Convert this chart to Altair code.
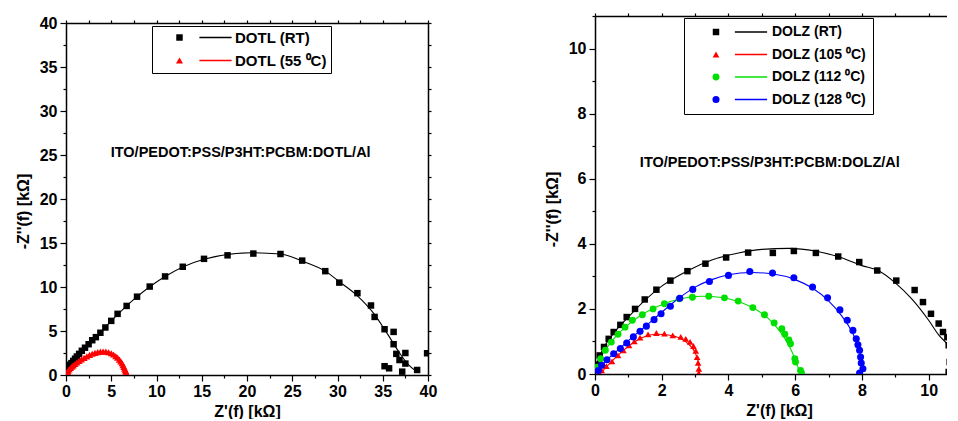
import altair as alt
import pandas as pd

FONT = "Liberation Sans"

# ---------------- Left panel: DOTL ----------------
DOTL_SERIES = ["DOTL (RT)", "DOTL (55 \u2070C)"]
DOTL_COLORS = ["#000000", "#ff0000"]
DOTL_SHAPES = ["square", "triangle-up"]

dotl_rt_px = [0.05, 0.1, 0.2, 0.3, 0.45, 0.6, 0.8, 1.0, 1.2, 1.45, 1.75, 2.1, 2.5, 2.9, 3.3, 3.8,
              4.35, 5.0, 5.7, 6.7, 7.85, 9.25, 10.95, 12.9, 15.25, 17.85, 20.7, 23.7, 26.1, 28.65,
              30.2, 32.2, 33.7, 34.1, 35.2, 36.2, 36.2, 36.5, 36.85, 37.5, 37.5, 37.15, 35.2, 35.7,
              38.8, 39.9]
dotl_rt_py = [0.45, 0.6, 0.8, 0.95, 1.15, 1.35, 1.6, 1.85, 2.1, 2.4, 2.75, 3.1, 3.5, 3.95, 4.3, 4.8,
              5.4, 6.15, 6.95, 7.85, 8.9, 10.05, 11.2, 12.3, 13.2, 13.6, 13.8, 13.75, 13.0, 11.8,
              10.5, 9.3, 7.9, 6.6, 5.2, 4.9, 3.5, 2.4, 1.7, 2.5, 1.3, 0.38, 1.0, 0.76,
              0.57, 2.47]
dotl_55_px = [0.05, 0.1, 0.15, 0.25, 0.35, 0.5, 0.65, 0.8, 1.0, 1.2, 1.45, 1.7, 2.0, 2.3, 2.6, 2.9,
              3.2, 3.5, 3.8, 4.1, 4.4, 4.7, 5.0, 5.25, 5.5, 5.7, 5.9, 6.05, 6.2, 6.3, 6.4, 6.48,
              6.55, 6.6, 6.65, 6.7, 6.72, 6.75]
dotl_55_py = [0.05, 0.2, 0.35, 0.5, 0.65, 0.8, 0.95, 1.1, 1.25, 1.42, 1.6, 1.78, 1.95, 2.12, 2.28, 2.42,
              2.52, 2.6, 2.65, 2.67, 2.65, 2.58, 2.47, 2.33, 2.15, 1.97, 1.75, 1.55, 1.33, 1.12, 0.92, 0.72,
              0.55, 0.4, 0.27, 0.15, 0.06, 0.02]
dotl_rt_fx = [0.0, 1.0, 2.0, 3.2, 5.0, 7.85, 10.95, 15.25, 20.5, 23.7, 26.1, 28.65, 30.2, 32.2, 34.0,
              35.5, 36.8, 37.8, 38.6]
dotl_rt_fy = [0.5, 1.95, 3.05, 4.2, 6.15, 8.9, 11.2, 13.15, 13.9, 13.75, 12.95, 11.8, 10.6, 9.0, 7.0,
              4.7, 2.6, 1.2, 0.5]
dotl_55_fx = [0.0, 0.5, 1.0, 2.0, 3.0, 4.0, 5.0, 5.7, 6.2, 6.5, 6.7, 6.75]
dotl_55_fy = [0.0, 0.78, 1.25, 1.95, 2.45, 2.66, 2.47, 1.97, 1.33, 0.7, 0.15, 0.0]

# ---------------- Right panel: DOLZ ----------------
DOLZ_SERIES = ["DOLZ (RT)", "DOLZ (105 \u2070C)", "DOLZ (112 \u2070C)", "DOLZ (128 \u2070C)"]
DOLZ_COLORS = ["#000000", "#ff0000", "#00e000", "#0000ff"]
DOLZ_SHAPES = ["square", "triangle-up", "circle", "circle"]

dolz_rt_px = [0.04, 0.14, 0.27, 0.41, 0.56, 0.76, 0.95, 1.2, 1.49, 1.84, 2.26, 2.77, 3.31, 3.93,
              4.59, 5.33, 5.96, 6.62, 7.29, 7.92, 8.46, 9.03, 9.58, 9.83, 10.07, 10.3, 10.43, 10.56,
              10.6, 10.63, 10.6]
dolz_rt_py = [0.29, 0.57, 0.83, 1.08, 1.29, 1.51, 1.75, 2.0, 2.29, 2.59, 2.87, 3.16, 3.39, 3.58,
              3.73, 3.72, 3.78, 3.72, 3.61, 3.44, 3.18, 2.87, 2.58, 2.21, 1.85, 1.55, 1.29, 1.13,
              0.88, 0.37, 0.06]
dolz_105_px = [0.1, 0.2, 0.34, 0.51, 0.69, 0.85, 1.02, 1.18, 1.35, 1.59, 1.84, 2.08, 2.33, 2.57,
               2.72, 2.85, 2.95, 3.02, 3.06, 3.09, 3.11, 3.11]
dolz_105_py = [0.03, 0.11, 0.24, 0.39, 0.57, 0.73, 0.88, 1.0, 1.12, 1.22, 1.26, 1.24, 1.19, 1.14,
               1.08, 0.99, 0.86, 0.71, 0.52, 0.34, 0.16, 0.03]
dolz_112_px = [0.07, 0.17, 0.31, 0.49, 0.69, 0.9, 1.12, 1.42, 1.74, 2.08, 2.52, 2.92, 3.41, 3.88,
               4.29, 4.73, 5.08, 5.37, 5.6, 5.69, 5.81, 5.86, 5.99, 6.01, 6.16, 6.19]
dolz_112_py = [0.21, 0.47, 0.73, 0.98, 1.22, 1.44, 1.65, 1.82, 2.0, 2.16, 2.31, 2.36, 2.39, 2.34,
               2.24, 2.04, 1.82, 1.57, 1.39, 1.22, 1.05, 0.93, 0.47, 0.37, 0.11, 0.03]
dolz_128_px = [0.1, 0.2, 0.36, 0.56, 0.76, 0.95, 1.15, 1.35, 1.54, 1.77, 1.98, 2.26, 2.54, 2.93,
               3.43, 4.0, 4.64, 5.32, 5.96, 6.52, 6.97, 7.34, 7.56, 7.73, 7.83, 7.88, 7.93, 7.96,
               7.98, 8.03, 7.93]
dolz_128_py = [0.11, 0.27, 0.44, 0.62, 0.78, 0.95, 1.14, 1.31, 1.47, 1.67, 1.85, 2.08, 2.33, 2.6,
               2.84, 3.03, 3.15, 3.1, 2.96, 2.67, 2.34, 1.97, 1.65, 1.34, 1.08, 0.9, 0.73, 0.52,
               0.34, 0.16, 0.03]
dolz_rt_fx = [0.0, 0.1, 0.3, 0.6, 1.0, 1.5, 2.0, 2.75, 3.5, 4.3, 5.0, 5.8, 6.6, 7.3, 8.0, 8.5, 9.0,
              9.5, 10.0, 10.3, 10.63, 10.8]
dolz_rt_fy = [0.15, 0.45, 0.88, 1.3, 1.75, 2.27, 2.7, 3.16, 3.5, 3.72, 3.83, 3.86, 3.78, 3.6, 3.33,
              3.17, 2.8, 2.3, 1.65, 1.2, 0.8, 0.4]
dolz_105_fx = [0.15, 0.4, 0.8, 1.2, 1.5, 1.85, 2.2, 2.55, 2.8, 3.0, 3.1, 3.14]
dolz_105_fy = [0.0, 0.28, 0.68, 1.0, 1.15, 1.22, 1.2, 1.1, 0.92, 0.65, 0.35, 0.05]
dolz_112_fx = [0.05, 0.2, 0.5, 0.9, 1.4, 2.0, 2.6, 3.2, 3.8, 4.3, 4.8, 5.2, 5.55, 5.8, 6.0, 6.12, 6.15]
dolz_112_fy = [0.15, 0.55, 1.0, 1.43, 1.82, 2.13, 2.32, 2.39, 2.35, 2.22, 2.0, 1.7, 1.3, 0.9, 0.45,
               0.1, 0.0]
dolz_128_fx = [0.05, 0.3, 0.7, 1.2, 1.8, 2.5, 3.0, 3.5, 4.0, 4.7, 5.3, 6.0, 6.5, 7.0, 7.4, 7.7, 7.9,
               8.0, 8.02]
dolz_128_fy = [0.1, 0.38, 0.75, 1.2, 1.72, 2.32, 2.67, 2.9, 3.05, 3.12, 3.08, 2.9, 2.65, 2.25, 1.78,
               1.3, 0.8, 0.35, 0.05]

LEFT_TICKS = [i * 2.5 for i in range(17)]
RIGHT_XTICKS = list(range(0, 11))
RIGHT_YTICKS = list(range(0, 12))


def frame(series_names, xs_list, ys_list, field="series", suffix=""):
    rows = []
    for name, xs, ys in zip(series_names, xs_list, ys_list):
        for k, (a, b) in enumerate(zip(xs, ys)):
            rows.append({field: name + suffix, "x": a, "y": b, "order": k})
    return pd.DataFrame(rows)


def tick_size(step):
    return {"condition": {"test": f"abs(datum.value % {step}) < 1e-6", "value": 6}, "value": 3}


def label_expr(step):
    return f"abs(datum.value % {step}) < 1e-6 ? datum.label : ''"


def panel(series, colors, shapes, pts, fits, xdom, ydom, xticks, yticks, xstep, ystep,
          width, height, top_gap, note, note_x, note_y, sizes, leg, ytitle_y, xtitle_x,
          right_axis):
    xs = alt.Scale(domain=xdom, nice=False, zero=False)
    ys = alt.Scale(domain=ydom, nice=False, zero=False, range=[height, top_gap])
    col_pts = alt.Scale(domain=series, range=colors)
    col_fit = alt.Scale(domain=[s + " fit" for s in series], range=colors)
    shp = alt.Scale(domain=series, range=shapes)

    legA = alt.Legend(title=None, orient="none", legendX=leg["x"], legendY=leg["y"],
                      strokeColor="black", padding=leg["pad"],
                      symbolOffset=leg["symoff"], labelOffset=leg["laboff"],
                      rowPadding=leg["rowpad"], symbolSize=45, symbolStrokeWidth=0,
                      labelFont=FONT, labelFontWeight="bold", labelFontSize=leg["fs"],
                      labelColor="black", labelLimit=400)
    legB = alt.Legend(title=None, orient="none", legendX=leg["bx"], legendY=leg["y"],
                      padding=leg["pad"], rowPadding=leg["rowpad"], symbolSize=45,
                      symbolType="M-4.8,0H4.8", symbolStrokeWidth=1.3,
                      labelFont=FONT, labelFontWeight="bold", labelFontSize=leg["fs"],
                      labelExpr="''", labelLimit=400)

    xaxis = alt.Axis(values=xticks, title="Z'(f) [k\u03a9]", labelExpr=label_expr(xstep),
                     tickSize=tick_size(xstep), labelFlush=False, labelOverlap=False,
                     titlePadding=4, format="d", **({"titleX": xtitle_x} if xtitle_x else {}))
    yaxis = alt.Axis(values=yticks, title="-Z''(f) [k\u03a9]", labelExpr=label_expr(ystep),
                     tickSize=tick_size(ystep), labelFlush=False, labelOverlap=False,
                     titlePadding=8, labelPadding=3, format="d", titleY=ytitle_y)

    lines = alt.Chart(fits).mark_line(strokeWidth=1.1, interpolate="monotone", clip=True).encode(
        x=alt.X("x:Q", scale=xs, axis=xaxis),
        y=alt.Y("y:Q", scale=ys, axis=yaxis),
        stroke=alt.Stroke("curve:N", scale=col_fit, legend=legB),
        order="order:Q",
    )
    points = alt.Chart(pts).mark_point(filled=True, opacity=1, clip=True).encode(
        x=alt.X("x:Q", scale=xs, axis=None),
        y=alt.Y("y:Q", scale=ys, axis=None),
        color=alt.Color("series:N", scale=col_pts, legend=legA),
        shape=alt.Shape("series:N", scale=shp, legend=legA),
        size=alt.Size("series:N", scale=alt.Scale(domain=series, range=sizes), legend=None),
    )
    top_kw = {"offset": -top_gap} if top_gap else {}
    top_axis = alt.Axis(orient="top", values=xticks, labels=False, title=None, tickSize=3,
                        domainWidth=1.5, **top_kw)
    right_ax = alt.Axis(orient="right", values=yticks, labels=False, title=None, tickSize=3,
                        domainWidth=1.5) if right_axis else None
    text = alt.Chart(pd.DataFrame({"t": [note]})).mark_text(
        font=FONT, fontWeight="bold", fontSize=14.5, color="black").encode(
        x=alt.XDatum(note_x, scale=xs, axis=top_axis),
        y=alt.YDatum(note_y, scale=ys, axis=right_ax),
        text="t:N",
    )
    return alt.layer(lines, points, text).resolve_axis(
        x="independent", y="independent").properties(width=width, height=height)


left_pts = frame(DOTL_SERIES, [dotl_rt_px, dotl_55_px], [dotl_rt_py, dotl_55_py])
left_fit = frame(DOTL_SERIES, [dotl_rt_fx, dotl_55_fx], [dotl_rt_fy, dotl_55_fy],
                 field="curve", suffix=" fit")
right_pts = frame(DOLZ_SERIES, [dolz_rt_px, dolz_105_px, dolz_112_px, dolz_128_px],
                  [dolz_rt_py, dolz_105_py, dolz_112_py, dolz_128_py])
right_fit = frame(DOLZ_SERIES, [dolz_rt_fx, dolz_105_fx, dolz_112_fx, dolz_128_fx],
                  [dolz_rt_fy, dolz_105_fy, dolz_112_fy, dolz_128_fy],
                  field="curve", suffix=" fit")

left = panel(DOTL_SERIES, DOTL_COLORS, DOTL_SHAPES, left_pts, left_fit, [0, 40], [0, 40],
             LEFT_TICKS, LEFT_TICKS, 5, 5, 362, 359, 7,
             "ITO/PEDOT:PSS/P3HT:PCBM:DOTL/Al", 19.3, 25.2, [42, 50],
             {"x": 86, "y": 10, "bx": 138, "pad": 4, "symoff": 16, "laboff": 48, "rowpad": 7,
              "fs": 15},
             195, None, True)
right = panel(DOLZ_SERIES, DOLZ_COLORS, DOLZ_SHAPES, right_pts, right_fit, [0, 10.55], [0, 11],
              RIGHT_XTICKS, RIGHT_YTICKS, 2, 2, 352, 358, 0,
              "ITO/PEDOT:PSS/P3HT:PCBM:DOLZ/Al", 5.24, 6.47, [42, 50, 45, 45],
              {"x": 89, "y": 2, "bx": 142, "pad": 7, "symoff": 18, "laboff": 49, "rowpad": 8.5,
               "fs": 14},
              193, 184, False)

chart = alt.hconcat(left, right, spacing=107).resolve_scale(
    color="independent", shape="independent", size="independent", stroke="independent"
).properties(
    padding={"left": 7, "top": 0, "right": 0, "bottom": 0}
).configure_view(stroke=None).configure_axis(
    labelFont=FONT, labelFontWeight="bold", labelFontSize=16, labelColor="black",
    titleFont=FONT, titleFontWeight="bold", titleFontSize=16, titleColor="black",
    domainColor="black", domainWidth=1.5, tickColor="black", tickWidth=1.2, grid=False,
)

chart.save("out.html", embed_options={"renderer": "svg", "actions": False})
